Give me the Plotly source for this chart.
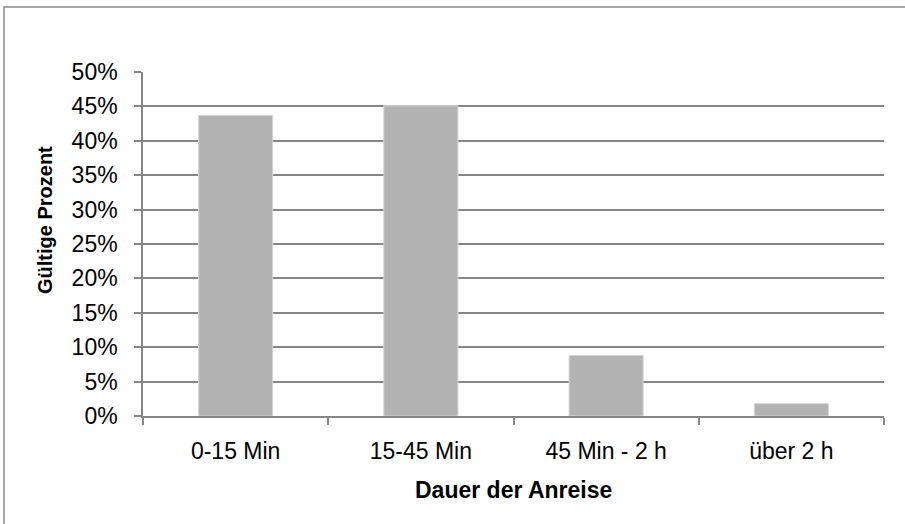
import plotly.graph_objects as go

categories = ["0-15 Min", "15-45 Min", "45 Min - 2 h", "über 2 h"]
values = [43.7, 45.1, 8.8, 1.8]
y_ticks = [0, 5, 10, 15, 20, 25, 30, 35, 40, 45, 50]
y_tick_text = ["0%", "5%", "10%", "15%", "20%", "25%", "30%", "35%", "40%", "45%", "50%"]
x_title = "Dauer der Anreise"
y_title = "Gültige Prozent"

W, H = 905, 524
L, R, T, B = 143, 21, 72, 108
pw, ph = W - L - R, H - T - B

def px_x(x):
    return (x - L) / pw

def px_y(y):
    return (H - B - y) / ph

grid = "#868686"
font = "Liberation Sans, Arial, sans-serif"

fig = go.Figure(go.Bar(
    x=categories, y=values,
    marker=dict(color="#B3B3B3", line=dict(color="#D6D6D6", width=1)),
    width=0.4,
))

fig.update_layout(
    width=W, height=H,
    margin=dict(l=L, r=R, t=T, b=B, pad=0),
    paper_bgcolor="white", plot_bgcolor="white",
    showlegend=False,
    font=dict(family=font, size=23, color="black"),
    xaxis=dict(
        type="category", showline=True, linecolor=grid, linewidth=1.5,
        ticks="outside", tickson="boundaries", ticklen=7, tickcolor=grid, tickwidth=1.5,
        tickfont=dict(size=23), showgrid=False, ticklabelstandoff=14,
    ),
    yaxis=dict(
        range=[0, 50], tickmode="array", tickvals=y_ticks, ticktext=y_tick_text,
        showline=True, linecolor=grid, linewidth=1.5,
        ticks="outside", ticklen=7, tickcolor=grid, tickwidth=1.5,
        showgrid=True, gridcolor=grid, gridwidth=1.5, zeroline=False,
        tickfont=dict(size=23), ticklabelstandoff=12,
    ),
    annotations=[
        dict(text="<b>" + y_title + "</b>", xref="paper", yref="paper",
             x=px_x(45), y=px_y(220), textangle=-90, showarrow=False,
             xanchor="center", yanchor="middle", font=dict(size=20)),
        dict(text="<b>" + x_title + "</b>", xref="paper", yref="paper",
             x=px_x(513), y=px_y(490), showarrow=False,
             xanchor="center", yanchor="middle", font=dict(size=23)),
    ],
    shapes=[
        dict(type="rect", xref="paper", yref="paper",
             x0=px_x(4), x1=px_x(908), y0=px_y(528), y1=px_y(7),
             line=dict(color="#8C8C8C", width=1.5), fillcolor="rgba(0,0,0,0)",
             layer="below"),
    ],
)

fig.write_html("out.html", config={"displayModeBar": False},
               post_script="document.body.style.margin='0';")
